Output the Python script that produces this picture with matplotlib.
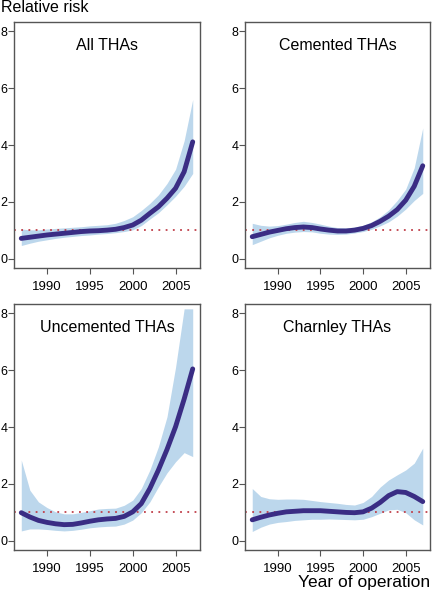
import matplotlib
matplotlib.use('Agg')
import matplotlib.pyplot as plt

plt.rcParams['font.family'] = ['Liberation Sans', 'DejaVu Sans']

years = list(range(1987, 2008))
panels = ['All THAs', 'Cemented THAs', 'Uncemented THAs', 'Charnley THAs']

# relative risk estimate, upper and lower confidence limits
all_rr = [0.72, 0.76, 0.80, 0.84, 0.87, 0.90, 0.93, 0.96, 0.98, 0.99, 1.01,
          1.04, 1.10, 1.19, 1.36, 1.60, 1.83, 2.13, 2.48, 3.06, 4.11]
all_hi = [1.05, 1.02, 1.02, 1.05, 1.07, 1.09, 1.11, 1.13, 1.16, 1.18, 1.20,
          1.25, 1.35, 1.48, 1.70, 1.95, 2.25, 2.65, 3.15, 4.15, 5.60]
all_lo = [0.47, 0.55, 0.62, 0.67, 0.72, 0.76, 0.79, 0.82, 0.84, 0.87, 0.89,
          0.92, 0.96, 1.02, 1.17, 1.40, 1.62, 1.90, 2.20, 2.55, 3.00]

cem_rr = [0.78, 0.86, 0.94, 1.00, 1.06, 1.10, 1.12, 1.10, 1.05, 1.01, 0.98,
          0.98, 1.01, 1.07, 1.17, 1.32, 1.50, 1.73, 2.06, 2.55, 3.27]
cem_hi = [1.25, 1.18, 1.15, 1.17, 1.22, 1.28, 1.32, 1.28, 1.22, 1.15, 1.10,
          1.09, 1.12, 1.18, 1.30, 1.48, 1.72, 2.05, 2.45, 3.20, 4.60]
cem_lo = [0.50, 0.62, 0.74, 0.83, 0.90, 0.94, 0.96, 0.95, 0.90, 0.87, 0.86,
          0.87, 0.91, 0.96, 1.04, 1.16, 1.30, 1.50, 1.75, 2.05, 2.30]

unc_rr = [0.99, 0.84, 0.72, 0.65, 0.60, 0.57, 0.58, 0.63, 0.69, 0.74, 0.77,
          0.79, 0.86, 1.02, 1.31, 1.84, 2.49, 3.21, 4.01, 4.98, 6.04]
unc_hi = [2.84, 1.78, 1.37, 1.17, 1.02, 0.95, 0.95, 1.00, 1.06, 1.12, 1.14,
          1.15, 1.25, 1.43, 1.84, 2.49, 3.31, 4.36, 6.10, 8.15, 8.15]
unc_lo = [0.35, 0.42, 0.42, 0.40, 0.37, 0.35, 0.37, 0.41, 0.46, 0.49, 0.51,
          0.52, 0.59, 0.73, 0.99, 1.37, 1.90, 2.39, 2.78, 3.10, 2.96]

cha_rr = [0.74, 0.83, 0.91, 0.97, 1.02, 1.04, 1.06, 1.06, 1.06, 1.04, 1.02,
          1.00, 0.99, 1.02, 1.15, 1.35, 1.59, 1.73, 1.70, 1.56, 1.38]
cha_hi = [1.84, 1.56, 1.48, 1.46, 1.47, 1.47, 1.46, 1.42, 1.38, 1.35, 1.32,
          1.28, 1.26, 1.35, 1.56, 1.89, 2.14, 2.32, 2.49, 2.73, 3.26]
cha_lo = [0.33, 0.48, 0.59, 0.65, 0.68, 0.72, 0.74, 0.76, 0.76, 0.77, 0.76,
          0.75, 0.74, 0.76, 0.85, 0.97, 1.09, 1.11, 0.99, 0.74, 0.56]

series = [(all_rr, all_hi, all_lo), (cem_rr, cem_hi, cem_lo),
          (unc_rr, unc_hi, unc_lo), (cha_rr, cha_hi, cha_lo)]

LINE = '#3a2d84'
BAND = '#bcd7ec'
REF = '#c0404a'
W, H = 432, 591

fig = plt.figure(figsize=(W / 100, H / 100), dpi=100)

# axes boxes in pixels: left, top, right, bottom
boxes = [(14, 22, 200, 268), (245, 22, 430, 268),
         (14, 304, 200, 550), (245, 304, 430, 550)]

for box, name, (rr, hi, lo) in zip(boxes, panels, series):
    l, t, r, b = box
    ax = fig.add_axes([l / W, (H - b) / H, (r - l) / W, (b - t) / H])
    ax.fill_between(years, lo, hi, color=BAND, lw=0, zorder=1)
    ax.axhline(1, color=REF, lw=1.3, ls=(0, (1, 3)), zorder=2)
    ax.plot(years, rr, color=LINE, lw=3.5, solid_capstyle='round', zorder=3)
    ax.set_xlim(1986.15, 2007.85)
    ax.set_ylim(-0.32, 8.32)
    ax.set_xticks([1990, 1995, 2000, 2005])
    ax.set_yticks([0, 2, 4, 6, 8])
    ax.tick_params(axis='x', length=4, width=0.8, pad=5, labelsize=9.5,
                   color='#555555')
    ax.tick_params(axis='y', length=4, width=0.8, pad=0.8, labelsize=9,
                   color='#555555')
    for s in ax.spines.values():
        s.set_color('#555555')
        s.set_linewidth(1.0)
    ax.text(0.5, 0.905, name, transform=ax.transAxes, ha='center',
            va='center', fontsize=11.5)

fig.text(0.003, 1 - 8 / H, 'Relative risk', ha='left', va='center',
         fontsize=11.5)
fig.text(0.995, 1 - 586.5 / H, 'Year of operation', ha='right',
         va='baseline', fontsize=12.5)

fig.savefig('out.png', dpi=100)
